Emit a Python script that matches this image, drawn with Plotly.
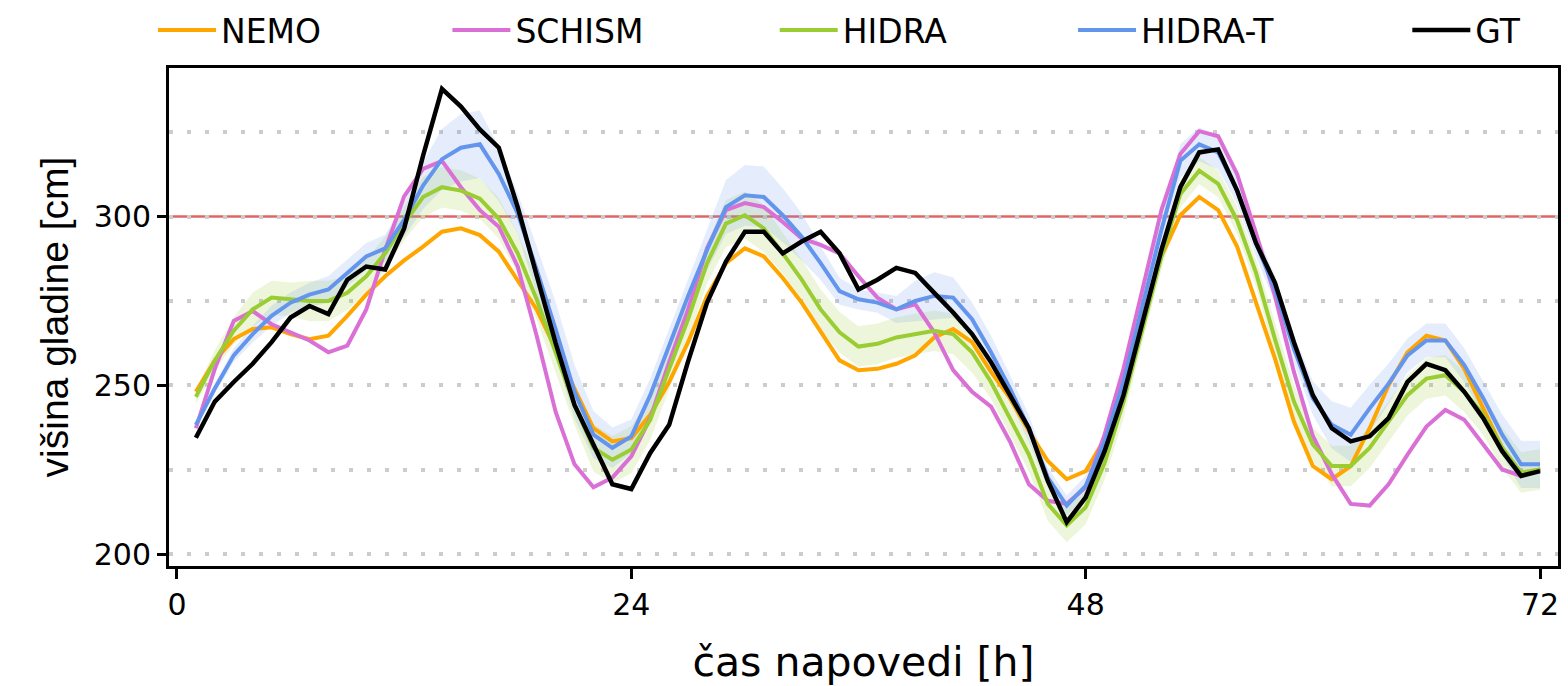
import plotly.graph_objects as go

hours = list(range(1, 73))

nemo = [248.1, 257.4, 263.7, 266.7, 267.2, 265.2, 263.7, 264.7, 270.6, 276.9, 282.3, 287.0,
        291.1, 295.5, 296.5, 294.5, 289.6, 281.3, 272.5, 260.8, 249.1, 237.3, 233.4, 234.4,
        241.3, 251.0, 262.8, 276.4, 286.2, 290.6, 288.2, 281.8, 274.5, 265.7, 257.4, 254.5,
        254.9, 256.4, 258.9, 264.2, 266.7, 262.8, 254.0, 246.2, 236.4, 227.6, 222.2, 224.6,
        234.0, 251.0, 269.6, 288.2, 300.4, 305.8, 301.9, 291.1, 274.5, 257.9, 239.3, 226.1,
        222.2, 226.1, 237.3, 250.0, 259.8, 264.7, 263.3, 254.9, 243.2, 231.5, 223.7, 225.1]

schism = [237.3, 254.9, 269.1, 272.0, 268.1, 265.7, 263.3, 259.8, 261.8, 272.5, 290.1, 306.0,
          314.1, 316.5, 308.7, 301.9, 297.0, 285.2, 264.7, 242.2, 226.6, 219.8, 222.7, 229.0,
          240.3, 256.9, 272.5, 290.6, 301.9, 304.0, 302.8, 298.4, 293.5, 291.6, 289.1, 282.3,
          276.0, 272.5, 274.0, 265.7, 254.5, 248.1, 243.7, 233.4, 220.7, 215.8, 214.9, 219.8,
          235.4, 254.9, 278.4, 301.9, 318.5, 325.3, 323.8, 312.6, 295.0, 276.5, 254.0, 235.0,
          223.7, 214.9, 214.4, 220.7, 229.5, 237.8, 242.7, 239.8, 232.5, 225.1, 223.2, 225.1]

hidra = [246.6, 257.4, 266.2, 272.5, 276.0, 275.5, 275.0, 275.0, 277.4, 282.3, 289.1, 298.0,
         305.8, 308.7, 307.7, 305.3, 299.4, 289.1, 275.5, 259.8, 244.2, 231.5, 228.0, 231.0,
         239.8, 254.9, 269.6, 286.2, 297.9, 300.4, 296.5, 289.1, 281.3, 272.5, 265.7, 261.5,
         262.3, 264.2, 265.2, 266.2, 265.2, 259.8, 251.0, 240.3, 229.5, 214.9, 208.5, 213.9,
         227.0, 245.2, 266.7, 288.2, 306.7, 313.6, 309.7, 298.9, 283.3, 263.7, 245.2, 232.5,
         226.1, 226.1, 231.5, 239.3, 247.1, 252.0, 253.0, 248.1, 241.3, 231.5, 224.2, 225.1]

hidra_t = [238.3, 249.1, 258.9, 265.2, 270.6, 274.5, 276.9, 278.4, 283.3, 288.2, 290.6, 299.0,
           309.2, 317.0, 320.4, 321.4, 312.6, 300.9, 284.3, 266.7, 248.1, 235.4, 231.5, 234.9,
           247.1, 261.8, 276.5, 290.1, 302.8, 306.3, 305.8, 300.4, 294.0, 286.2, 277.9, 275.5,
           274.5, 272.5, 275.0, 276.5, 276.0, 269.6, 259.8, 249.1, 237.3, 222.7, 214.4, 220.2,
           233.4, 251.0, 273.5, 296.0, 316.5, 321.4, 319.0, 307.7, 292.1, 278.4, 260.8, 246.2,
           238.3, 235.4, 243.2, 250.5, 258.9, 263.3, 263.3, 256.0, 246.2, 235.4, 226.6, 226.6]

gt = [234.5, 245.2, 251.0, 256.4, 262.8, 270.1, 273.5, 271.1, 281.3, 285.2, 284.3, 296.5,
      318.0, 337.8, 332.6, 325.8, 320.4, 302.8, 282.6, 262.6, 244.2, 232.5, 220.7, 219.3,
      230.0, 238.3, 257.1, 274.5, 286.7, 295.5, 295.5, 289.1, 292.6, 295.5, 289.1, 278.4,
      281.3, 284.8, 283.3, 277.4, 271.6, 265.2, 256.9, 247.1, 237.3, 221.7, 209.5, 216.8,
      230.5, 247.1, 268.6, 290.1, 308.7, 319.0, 319.9, 307.7, 292.1, 280.4, 262.8, 247.1,
      237.3, 233.4, 234.9, 240.3, 251.0, 256.4, 254.5, 248.1, 240.3, 230.5, 223.2, 224.6]

# half-width of the uncertainty bands (cm), read from the shaded areas
hidra_t_spread = [1, 1.5, 2, 2.5,
                  3, 3, 3.5, 4, 4, 4, 4,
                  5, 7, 9, 10, 10, 8, 6,
                  7, 8, 8, 7, 6, 5,
                  5, 5, 5, 6,
                  8, 9, 9, 8, 7,
                  5, 4, 3, 3, 4,
                  6, 7, 6, 5,
                  5, 4, 4, 3, 3, 3,
                  3, 3, 4, 4,
                  5, 5, 5, 4, 4,
                  4, 4, 5,
                  7, 8, 7, 6,
                  5, 5, 5, 5,
                  5, 6, 7, 7]

hidra_spread = [2, 3, 4, 5,
                5, 5, 6, 6, 5, 5, 5,
                5, 6, 6, 6, 6, 6, 6,
                6, 6, 6, 7, 7, 7,
                6, 6, 6, 6,
                7, 7, 7, 6, 6,
                6, 6, 6, 6, 6,
                6, 6, 6, 6,
                5, 5, 5, 5, 5, 5,
                5, 5, 4, 4,
                4, 4, 4, 4, 4,
                5, 5, 5,
                6, 6, 6, 6,
                6, 6, 6, 6,
                6, 6, 6, 6]

threshold = 300
x_ticks = [0, 24, 48, 72]
y_ticks = [200, 250, 300]

names = ["NEMO", "SCHISM", "HIDRA", "HIDRA-T", "GT"]
colors = ["#FFA500", "#DA70D6", "#9ACD32", "#6495ED", "#000000"]
series = [nemo, schism, hidra, hidra_t, gt]

# layout geometry
W, H = 1568, 686
ML, MR, MT, MB = 169, 7, 63, 120
PW = W - ML - MR
legend_px = [153, 448, 776, 1075, 1410]

fig = go.Figure()


def add_band(vals, spread, fill):
    upper = [v + s for v, s in zip(vals, spread)]
    lower = [v - s for v, s in zip(vals, spread)]
    fig.add_trace(go.Scatter(x=hours, y=upper, mode="lines", line=dict(width=0),
                             showlegend=False, hoverinfo="skip"))
    fig.add_trace(go.Scatter(x=hours, y=lower, mode="lines", line=dict(width=0),
                             fill="tonexty", fillcolor=fill, showlegend=False,
                             hoverinfo="skip"))


add_band(hidra, hidra_spread, "rgba(154,205,50,0.18)")
add_band(hidra_t, hidra_t_spread, "rgba(100,149,237,0.17)")

legend_layouts = {}
for i, (n, c, s) in enumerate(zip(names, colors, series)):
    lname = "legend" if i == 0 else f"legend{i + 1}"
    fig.add_trace(go.Scatter(x=hours, y=s, mode="lines", name=n, legend=lname,
                             line=dict(color=c, width=4.5 if n == "GT" else 4)))
    legend_layouts[lname] = dict(
        orientation="h", x=(legend_px[i] - ML) / PW, xanchor="left",
        yref="container", y=1 - 30 / H, yanchor="middle",
        font=dict(size=33, family="DejaVu Sans", color="black"), itemwidth=58,
        bgcolor="rgba(0,0,0,0)")

fig.add_hline(y=threshold, line=dict(color="#E06666", width=2.5), layer="below")

grid_style = dict(gridcolor="#CCCCCC", gridwidth=3.5, griddash="3.5px,14.5px")

fig.update_layout(
    width=W, height=H,
    margin=dict(l=ML, r=MR, t=MT, b=MB),
    paper_bgcolor="white", plot_bgcolor="white",
    font=dict(family="DejaVu Sans", color="black"),
    xaxis=dict(range=[-0.42, 72.95], tickvals=x_ticks, ticktext=[str(v) for v in x_ticks],
               showgrid=False, zeroline=False, showline=True, mirror=True,
               linecolor="black", linewidth=3, ticks="outside", ticklen=10,
               tickwidth=3, tickcolor="black",
               tickfont=dict(size=30, family="DejaVu Sans"),
               title=dict(text="čas napovedi [h]", font=dict(size=41, family="DejaVu Sans"),
                          standoff=28)),
    yaxis=dict(range=[196.5, 344], tickvals=y_ticks, ticktext=[str(v) for v in y_ticks],
               showgrid=True, **grid_style, zeroline=False, showline=True, mirror=True,
               linecolor="black", linewidth=3, ticks="outside", ticklen=9,
               tickwidth=3, tickcolor="black",
               tickfont=dict(size=30, family="DejaVu Sans"),
               minor=dict(dtick=25, tick0=200, showgrid=True, **grid_style, ticks=""),
               title=dict(text="višina gladine [cm]",
                          font=dict(size=39, family="Liberation Sans, Arial"),
                          standoff=14)),
    **legend_layouts,
)

fig.write_html("out.html")
